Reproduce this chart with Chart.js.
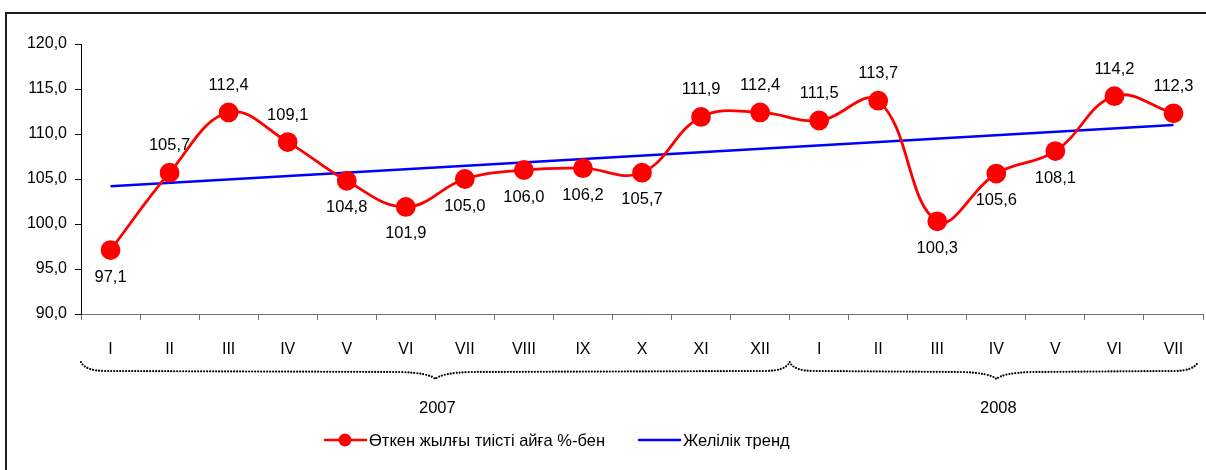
<!DOCTYPE html>
<html><head><meta charset="utf-8">
<script src="https://cdn.jsdelivr.net/npm/chart.js@4/dist/chart.umd.min.js"></script>
<style>html,body{margin:0;padding:0;background:#fff}#wrap{width:1206px;height:470px}</style>
</head><body><div id="wrap"><canvas id="c" width="1206" height="470"></canvas></div>
<script>
// ---- data ----
const months = ['I','II','III','IV','V','VI','VII','VIII','IX','X','XI','XII','I','II','III','IV','V','VI','VII'];
const values = [97.1,105.7,112.4,109.1,104.8,101.9,105.0,106.0,106.2,105.7,111.9,112.4,111.5,113.7,100.3,105.6,108.1,114.2,112.3];
const trendValues = [104.2,null,null,null,null,null,null,null,null,null,null,null,null,null,null,null,null,null,111.0];
const years = ['2007','2008'];
const yearFirstIndex = [0, 12];
const yearLastIndex = [11, 18];
const seriesName = 'Өткен жылғы тиісті айға %-бен';
const trendName = 'Желілік тренд';
const yMin = 90, yMax = 120, yStep = 5;

// ---- style ----
const labelSide = ['b','a','a','a','b','b','b','b','b','b','a','a','a','a','b','b','b','a','a'];
const FONT = "'Liberation Sans', Arial, sans-serif";
const fmt = v => v.toFixed(1).replace('.', ',');

const framePlugin = {
  id: 'frame',
  beforeDraw(chart) {
    const ctx = chart.ctx;
    ctx.save();
    ctx.fillStyle = '#fff';
    ctx.fillRect(0, 0, chart.width, chart.height);
    ctx.strokeStyle = '#1e1e1e';
    ctx.lineWidth = 2;
    ctx.strokeRect(6, 13, chart.width + 20, chart.height + 20);
    ctx.restore();
  }
};

const labelPlugin = {
  id: 'dlabels',
  afterDatasetsDraw(chart) {
    const ctx = chart.ctx;
    const meta = chart.getDatasetMeta(0);
    ctx.save();
    ctx.font = '16.5px ' + FONT;
    ctx.fillStyle = '#000';
    ctx.textAlign = 'center';
    ctx.textBaseline = 'middle';
    meta.data.forEach((pt, i) => {
      const dy = labelSide[i] === 'a' ? -27 : 27;
      ctx.fillText(fmt(values[i]), pt.x, pt.y + dy);
    });
    ctx.restore();
  }
};

const bracePlugin = {
  id: 'braces',
  afterDraw(chart) {
    const ctx = chart.ctx;
    const xs = chart.scales.x;
    const area = chart.chartArea;
    const half = (xs.getPixelForValue(1) - xs.getPixelForValue(0)) / 2;
    const yTop = area.bottom + 48, yFlat = area.bottom + 57, yTip = area.bottom + 65;
    ctx.save();
    ctx.strokeStyle = '#000';
    ctx.lineWidth = 2.2;
    ctx.lineCap = 'round';
    ctx.setLineDash([0, 3]);
    years.forEach((yr, k) => {
      const x0 = xs.getPixelForValue(yearFirstIndex[k]) - half;
      const x1 = xs.getPixelForValue(yearLastIndex[k]) + half - (k === years.length - 1 ? 5 : 0);
      const mid = (xs.getPixelForValue(yearFirstIndex[k]) + xs.getPixelForValue(yearLastIndex[k])) / 2;
      ctx.beginPath();
      ctx.moveTo(x0, yTop);
      ctx.quadraticCurveTo(x0 + 4, yFlat, x0 + 25, yFlat);
      ctx.lineTo(mid - 35, yFlat + 1);
      ctx.quadraticCurveTo(mid - 6, yFlat + 2, mid, yTip);
      ctx.quadraticCurveTo(mid + 6, yFlat + 2, mid + 35, yFlat + 1);
      ctx.lineTo(x1 - 25, yFlat);
      ctx.quadraticCurveTo(x1 - 4, yFlat, x1, yTop);
      ctx.stroke();
    });
    ctx.setLineDash([]);
    ctx.font = '16.5px ' + FONT;
    ctx.fillStyle = '#000';
    ctx.textAlign = 'center';
    ctx.textBaseline = 'middle';
    years.forEach((yr, k) => {
      const mid = (xs.getPixelForValue(yearFirstIndex[k]) + xs.getPixelForValue(yearLastIndex[k])) / 2;
      ctx.fillText(yr, mid + 2, area.bottom + 94);
    });

    // legend
    const ly = 440;
    const ds0 = chart.data.datasets[0], ds1 = chart.data.datasets[1];
    ctx.lineWidth = 2.5;
    ctx.strokeStyle = ds0.borderColor;
    ctx.beginPath(); ctx.moveTo(325, ly); ctx.lineTo(366, ly); ctx.stroke();
    ctx.fillStyle = ds0.pointBackgroundColor;
    ctx.beginPath(); ctx.arc(345, ly, 6.5, 0, Math.PI * 2); ctx.fill();
    ctx.strokeStyle = ds1.borderColor;
    ctx.beginPath(); ctx.moveTo(639, ly); ctx.lineTo(680, ly); ctx.stroke();
    ctx.fillStyle = '#000';
    ctx.textAlign = 'left';
    ctx.fillText(ds0.label, 369, ly + 1);
    ctx.fillText(ds1.label, 683, ly + 1);
    ctx.restore();
  }
};

new Chart(document.getElementById('c'), {
  type: 'line',
  data: {
    labels: months,
    datasets: [
      {
        label: seriesName,
        data: values,
        borderColor: '#ff0000',
        backgroundColor: '#ff0000',
        pointBackgroundColor: '#ff0000',
        pointBorderColor: '#ff0000',
        borderWidth: 2.8,
        pointRadius: 8.5,
        pointHoverRadius: 8.5,
        tension: 0.4,
        fill: false
      },
      {
        label: trendName,
        data: trendValues,
        borderColor: '#0000ff',
        borderWidth: 2.5,
        pointRadius: 0,
        spanGaps: true,
        tension: 0,
        fill: false
      }
    ]
  },
  options: {
    responsive: false,
    animation: false,
    devicePixelRatio: 1,
    layout: { autoPadding: false, padding: { left: 0, top: 44, right: 3, bottom: 0 } },
    plugins: { legend: { display: false }, tooltip: { enabled: false } },
    scales: {
      x: {
        type: 'category',
        offset: true,
        afterFit: s => { s.height = 156; s.paddingLeft = 0; s.paddingRight = 0; },
        grid: { display: true, drawOnChartArea: false, offset: true, tickLength: 6, color: '#707070', lineWidth: 1 },
        border: { display: true, color: '#707070', width: 1 },
        ticks: { color: '#000', font: { family: FONT, size: 16 }, padding: 20, maxRotation: 0, autoSkip: false }
      },
      y: {
        min: yMin, max: yMax,
        afterFit: s => { s.width = 81; },
        grid: { display: true, drawOnChartArea: false, tickLength: 6, color: '#000', lineWidth: 1 },
        border: { display: true, color: '#000', width: 1 },
        ticks: { stepSize: yStep, color: '#000', font: { family: FONT, size: 16 }, padding: 8, callback: v => fmt(v) }
      }
    }
  },
  plugins: [framePlugin, labelPlugin, bracePlugin]
});
</script>
</body></html>
